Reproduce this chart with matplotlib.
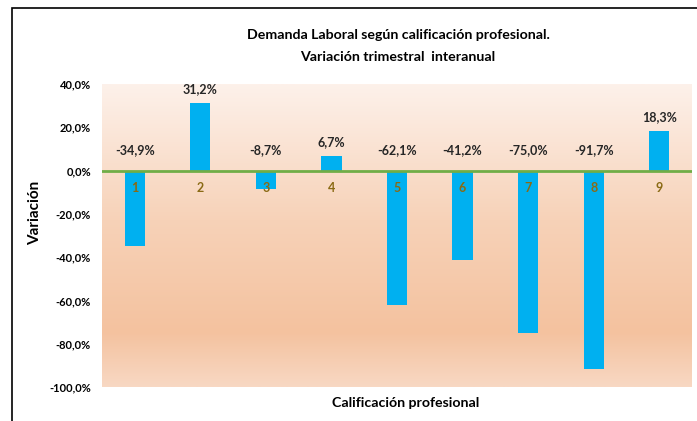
import numpy as np
import matplotlib.pyplot as plt
from matplotlib.colors import LinearSegmentedColormap
from matplotlib.patches import Rectangle

plt.rcParams['font.family'] = ['Lato', 'DejaVu Sans']

# -------------------------------
# Data
# -------------------------------
categorias = ['1', '2', '3', '4', '5', '6', '7', '8', '9']
variacion = [-34.9, 31.2, -8.7, 6.7, -62.1, -41.2, -75.0, -91.7, 18.3]
etiquetas = ['-34,9%', '31,2%', '-8,7%', '6,7%', '-62,1%', '-41,2%', '-75,0%', '-91,7%', '18,3%']
yticks = [40, 20, 0, -20, -40, -60, -80, -100]
ytick_labels = ['40,0%', '20,0%', '0,0%', '-20,0%', '-40,0%', '-60,0%', '-80,0%', '-100,0%']

# -------------------------------
# Figure
# -------------------------------
fig = plt.figure(figsize=(6.97, 4.21), dpi=100)
ax = fig.add_axes([102 / 697, 1 - 387 / 421, 590 / 697, 303 / 421])

# outer chart frame (left and top edges)
fig.patches.append(Rectangle((12 / 697, -0.1), 1.2, 1 - 8 / 421 + 0.1,
                             transform=fig.transFigure, fill=False,
                             edgecolor='black', linewidth=1.2))

x = np.arange(len(categorias))
ax.set_xlim(-0.5, len(categorias) - 0.5)
ax.set_ylim(-100, 40)

# peach gradient background
fondo = LinearSegmentedColormap.from_list(
    'fondo', [(0.0, '#f8d8c3'), (0.18, '#f4c29f'), (0.55, '#f7d2b8'), (1.0, '#fdf1ea')])
grad = np.linspace(0, 1, 256).reshape(-1, 1)
ax.imshow(grad, cmap=fondo, origin='lower', aspect='auto',
          extent=(-0.5, len(categorias) - 0.5, -100, 40), zorder=0)

ax.bar(x, variacion, width=0.31, color='#00b0f0', zorder=2)
ax.axhline(0, color='#70ad47', linewidth=2, zorder=3)

# value labels
for xi, v, lab in zip(x, variacion, etiquetas):
    if v >= 0:
        ax.text(xi, v + 3.5, lab, ha='center', va='bottom', fontsize=9,
                fontweight='bold', color='#262626', zorder=4)
    else:
        ax.text(xi, 9.5, lab, ha='center', va='center', fontsize=9,
                fontweight='bold', color='#262626', zorder=4)

# category labels just under the zero line
for xi, c in zip(x, categorias):
    ax.text(xi, -8, c, ha='center', va='center', fontsize=9,
            fontweight='bold', color='#8a6a14', zorder=4)

ax.set_xticks([])
ax.set_yticks(yticks)
ax.set_yticklabels(ytick_labels, fontsize=8, fontweight='bold')
ax.tick_params(axis='y', length=0, pad=8)
for s in ax.spines.values():
    s.set_visible(False)

fig.text(398 / 697, 1 - 35 / 421, 'Demanda Laboral según calificación profesional.',
         ha='center', va='center', fontsize=10.2, fontweight='bold')
fig.text(398 / 697, 1 - 57 / 421, 'Variación trimestral  interanual',
         ha='center', va='center', fontsize=10.2, fontweight='bold')
fig.text(35 / 697, 1 - 213 / 421, 'Variación', rotation=90,
         ha='center', va='center', fontsize=11, fontweight='bold')
fig.text(406 / 697, 1 - 403 / 421, 'Calificación profesional',
         ha='center', va='center', fontsize=10.2, fontweight='bold')

fig.savefig('out.png', dpi=100)
